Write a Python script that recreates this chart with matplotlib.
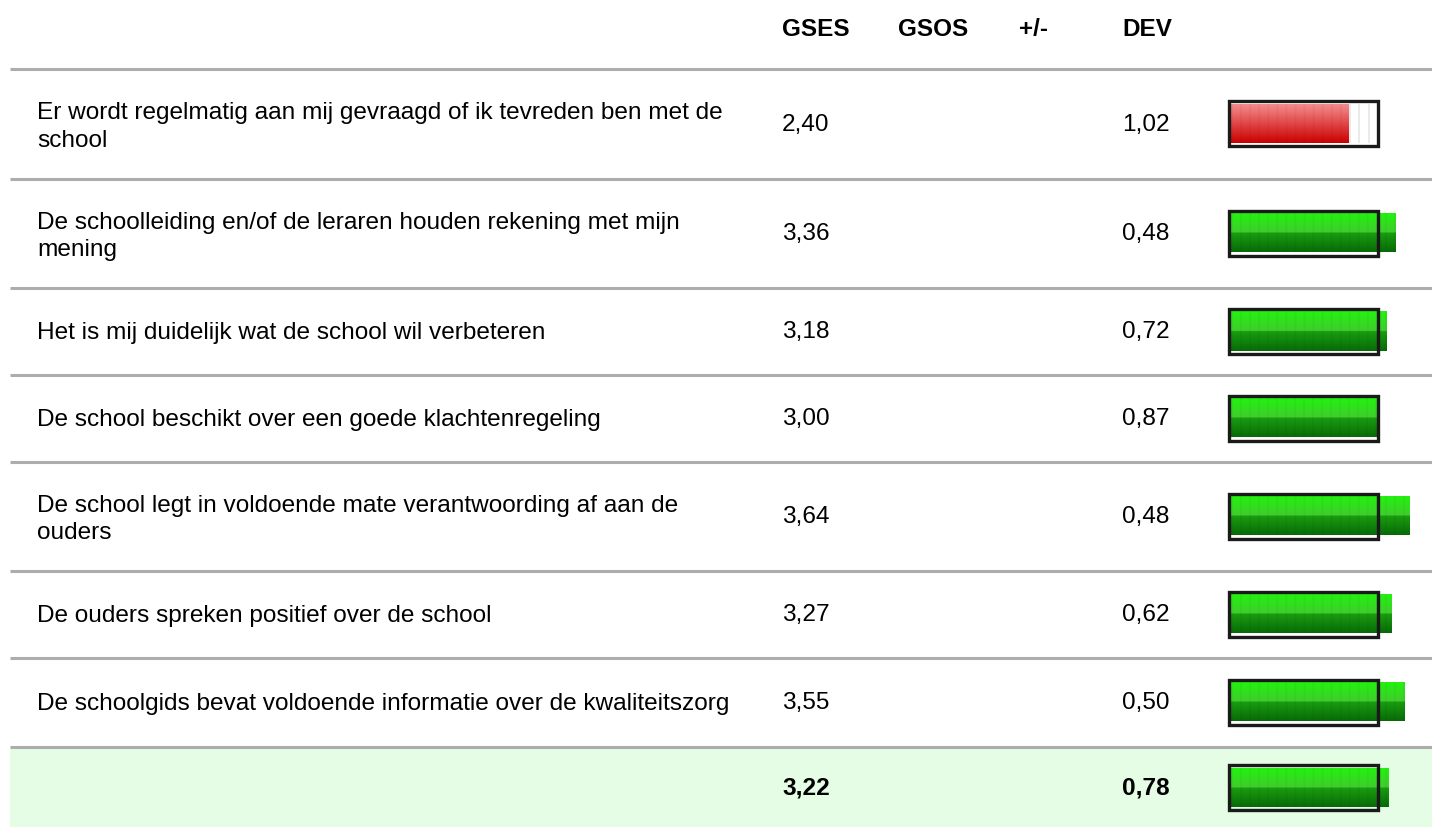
import numpy as np
import matplotlib.pyplot as plt
from matplotlib.patches import Rectangle

plt.rcParams['font.family'] = ['Liberation Sans', 'DejaVu Sans']

# gegevens
vragen = [
    "Er wordt regelmatig aan mij gevraagd of ik tevreden ben met de\nschool",
    "De schoolleiding en/of de leraren houden rekening met mijn\nmening",
    "Het is mij duidelijk wat de school wil verbeteren",
    "De school beschikt over een goede klachtenregeling",
    "De school legt in voldoende mate verantwoording af aan de\nouders",
    "De ouders spreken positief over de school",
    "De schoolgids bevat voldoende informatie over de kwaliteitszorg",
]
gses = [2.40, 3.36, 3.18, 3.00, 3.64, 3.27, 3.55]
dev = [1.02, 0.48, 0.72, 0.87, 0.48, 0.62, 0.50]
totaal_gses = 3.22
totaal_dev = 0.78
kolommen = ["GSES", "GSOS", "+/-", "DEV"]

# layout (pixels)
W, H = 1432, 828
scheidingen = [68, 178, 287, 374, 461, 570, 657, 746]
onderkant = 828
kol_x = [782, 898, 1019, 1122]
bar_x0 = 1231          # start vulling
px_per_punt = 49.0     # breedte per schaalpunt
frame_max = 3.0        # frame loopt tot waarde 3
grens_rood = 2.5
FS = 17.6

fig = plt.figure(figsize=(W / 100, H / 100), dpi=100)
ax = fig.add_axes([0, 0, 1, 1])
ax.set_xlim(0, W)
ax.set_ylim(H, 0)
ax.axis('off')


def gradient_rood(n=60):
    t = np.linspace(0, 1, n)[:, None]
    top = np.array([0.96, 0.55, 0.55])
    bot = np.array([0.80, 0.0, 0.0])
    return top + (bot - top) * t


def gradient_groen(n=60):
    t = np.linspace(0, 1, n)
    out = np.zeros((n, 3))
    for i, v in enumerate(t):
        if v < 0.5:
            a = v / 0.5
            c0 = np.array([0.14, 0.95, 0.06])
            c1 = np.array([0.25, 0.80, 0.18])
        else:
            a = (v - 0.5) / 0.5
            c0 = np.array([0.10, 0.62, 0.06])
            c1 = np.array([0.03, 0.42, 0.03])
        out[i] = c0 + (c1 - c0) * a
    return out


def teken_balk(waarde, yc, hoogte=39):
    kleur = gradient_rood() if waarde < grens_rood else gradient_groen()
    breedte = waarde * px_per_punt
    frame_b = frame_max * px_per_punt
    # vulling met lichte verticale strepen
    ncol = max(int(breedte), 1)
    img = np.repeat(kleur[:, None, :], ncol, axis=1)
    strepen = 1 - 0.035 * (np.arange(ncol) % 9 < 2)
    img = img * strepen[None, :, None]
    ax.imshow(img, extent=[bar_x0, bar_x0 + breedte, yc + hoogte / 2, yc - hoogte / 2],
              aspect='auto', interpolation='bilinear', zorder=2)
    # lege deel (wit met grijze strepen)
    if breedte < frame_b:
        nleeg = int(frame_b - breedte)
        leeg = np.ones((10, nleeg, 3))
        leeg[:, (np.arange(nleeg) % 9) < 2, :] = 0.92
        ax.imshow(leeg, extent=[bar_x0 + breedte, bar_x0 + frame_b, yc + hoogte / 2, yc - hoogte / 2],
                  aspect='auto', interpolation='nearest', zorder=2)
    ax.add_patch(Rectangle((bar_x0 - 2, yc - hoogte / 2 - 3), frame_b + 1.5, hoogte + 6,
                           fill=False, edgecolor='#1a1a1a', linewidth=2.4, zorder=3))


# kop
for naam, x in zip(kolommen, kol_x):
    ax.text(x, 29, naam, fontsize=17.5, fontweight='bold', ha='left', va='center')

# scheidingslijnen
for y in scheidingen:
    ax.plot([10, W], [y + 1.5, y + 1.5], color='#adadad', linewidth=2.2, solid_capstyle='butt', zorder=4)

# totaalrij achtergrond
ax.add_patch(Rectangle((10, scheidingen[-1] + 3), W - 10, onderkant - scheidingen[-1] - 3,
                       facecolor='#e4fde4', edgecolor='none', zorder=0))

# rijen
for i, (vraag, g, d) in enumerate(zip(vragen, gses, dev)):
    yc = (scheidingen[i] + scheidingen[i + 1]) / 2 + 1.5
    dy = 2.5 if '\n' in vraag else 1
    ax.text(37, yc + dy, vraag, fontsize=FS, ha='left', va='center', linespacing=1.3)
    ax.text(782, yc, f"{g:.2f}".replace('.', ','), fontsize=FS, ha='left', va='center')
    ax.text(1122, yc, f"{d:.2f}".replace('.', ','), fontsize=FS, ha='left', va='center')
    teken_balk(g, yc)

yc = (scheidingen[-1] + 3 + onderkant) / 2
ax.text(782, yc, f"{totaal_gses:.2f}".replace('.', ','), fontsize=FS, fontweight='bold', ha='left', va='center')
ax.text(1122, yc, f"{totaal_dev:.2f}".replace('.', ','), fontsize=FS, fontweight='bold', ha='left', va='center')
teken_balk(totaal_gses, yc)

fig.savefig('out.png', dpi=100)
